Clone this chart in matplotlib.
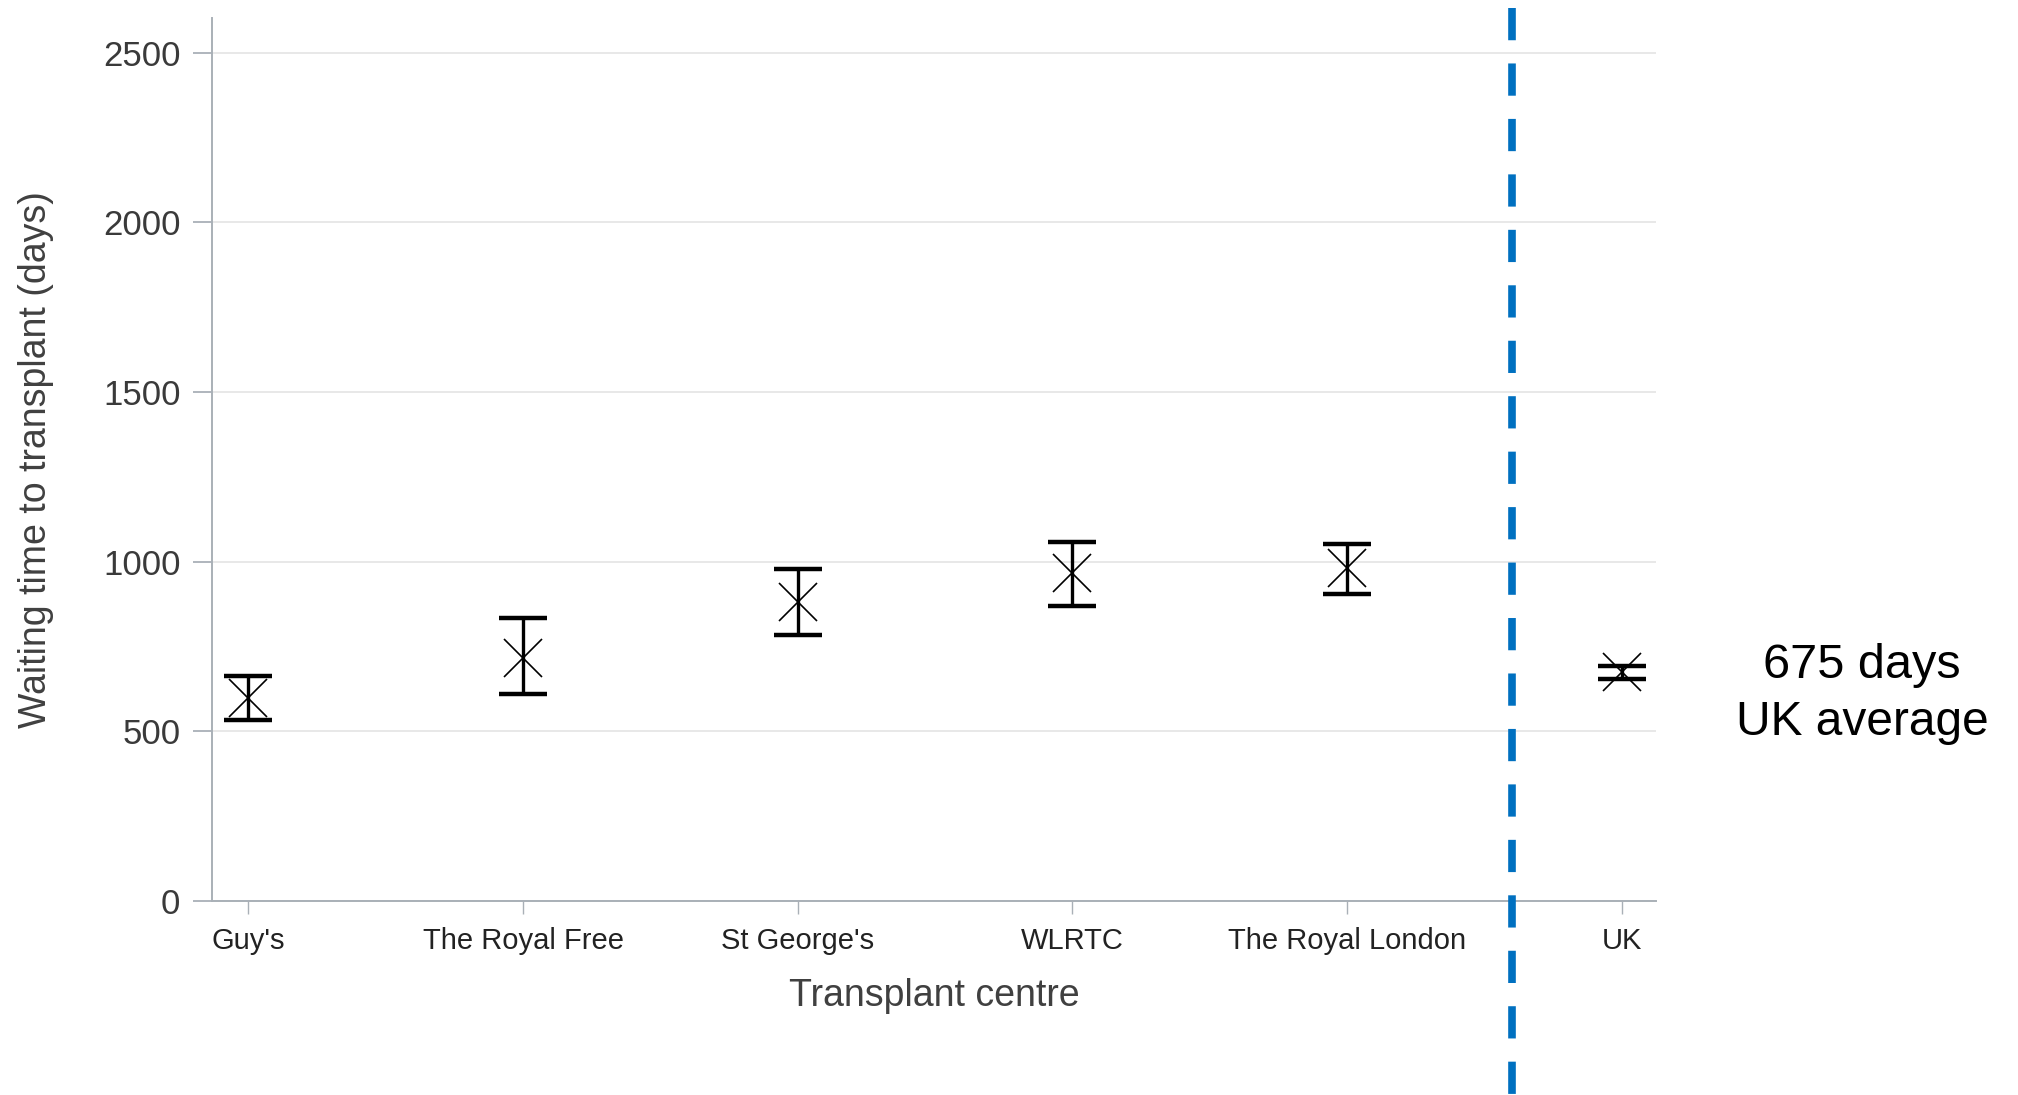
import numpy as np
import matplotlib
matplotlib.use("Agg")
import matplotlib.pyplot as plt
from matplotlib import transforms
from matplotlib.lines import Line2D

# Dane
centres = ["Guy's", "The Royal Free", "St George's", "WLRTC", "The Royal London", "UK"]
wait_mid = [599, 717, 880, 967, 982, 675]
wait_low = [534, 609, 783, 869, 905, 653]
wait_high = [663, 833, 978, 1059, 1052, 692]
y_ticks = [0, 500, 1000, 1500, 2000, 2500]
uk_average = 675

W, H = 2018, 1095
plt.rcParams['font.family'] = ['Liberation Sans', 'DejaVu Sans']

fig = plt.figure(figsize=(W / 100, H / 100), dpi=100)
ax = fig.add_axes([212 / W, 1 - 901 / H, (1656 - 212) / W, (901 - 18) / H])

x = np.arange(len(centres))
mid = np.array(wait_mid)
err = [mid - np.array(wait_low), np.array(wait_high) - mid]

ax.errorbar(x, mid, yerr=err, fmt='none', ecolor='black', elinewidth=2.4,
            capsize=17.6, capthick=3.2, zorder=3)
ax.plot(x, mid, 'x', ms=27, mew=1.2, color='black', zorder=4)

ax.set_xlim(-0.1326, 5.125)
ax.set_ylim(0, 2602)
ax.set_xticks(x)
ax.set_xticklabels(centres)
ax.set_yticks(y_ticks)

spine_col = '#a9b0b7'
for s in ['top', 'right']:
    ax.spines[s].set_visible(False)
for s in ['left', 'bottom']:
    ax.spines[s].set_color(spine_col)
    ax.spines[s].set_linewidth(1.4)

ax.yaxis.grid(True, color='#e4e4e4', linewidth=1.2)
ax.set_axisbelow(True)

ax.tick_params(axis='y', length=13.7, width=1.3, color=spine_col, pad=9,
               labelsize=25, labelcolor='#3a3a3a')
ax.tick_params(axis='x', length=9.4, width=1.0, color=spine_col, pad=9.5,
               labelsize=21, labelcolor='#222222')

ax.set_ylabel('Waiting time to transplant (days)', fontsize=27, color='#404040')
ax.yaxis.set_label_coords(-0.1219, 0.5)
ax.set_xlabel('Transplant centre', fontsize=27, color='#404040')
ax.xaxis.set_label_coords(0.5, -0.1076)
ax.xaxis.label.set_va('center')
ax.yaxis.label.set_va('center')

# niebieska linia przerywana oddzielająca średnią UK
trans = transforms.blended_transform_factory(ax.transData, fig.transFigure)
sep = Line2D([4.6, 4.6], [1 - 8 / H, 0], transform=trans, color='#0070C0',
             linewidth=5.5, dashes=(32.5 / 7.7, 23.4 / 7.7), zorder=10)
fig.add_artist(sep)

fig.text(1862 / W, 1 - 678 / H, f'{uk_average} days', ha='center', va='baseline',
         fontsize=35, color='black')
fig.text(1862 / W, 1 - 735 / H, 'UK average', ha='center', va='baseline',
         fontsize=34.5, color='black')

fig.savefig('out.png', dpi=100, facecolor='white')
